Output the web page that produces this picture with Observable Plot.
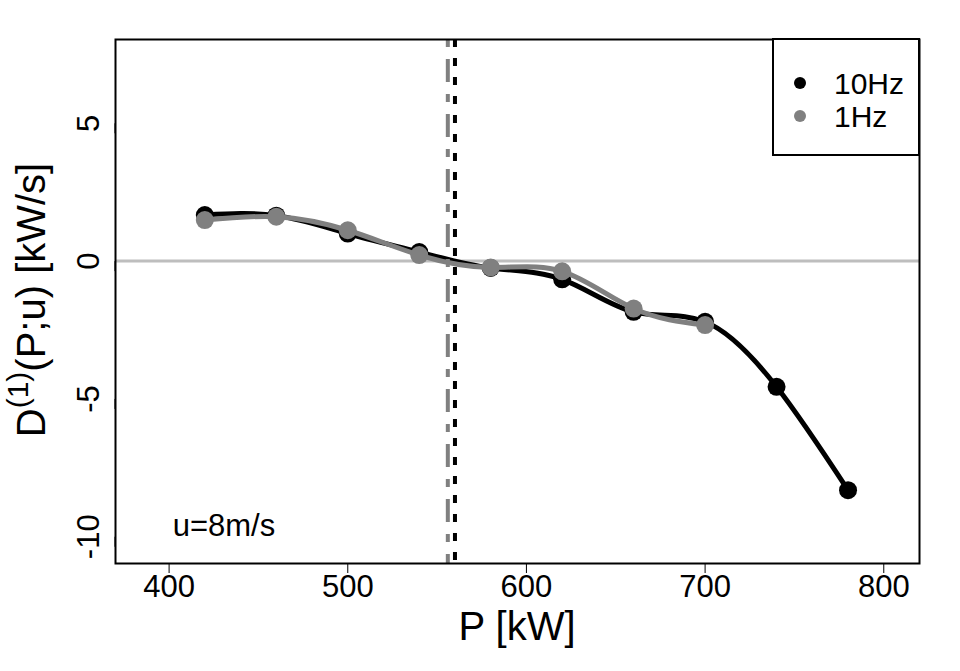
<!DOCTYPE html>
<html><head><meta charset="utf-8">
<script src="https://cdn.jsdelivr.net/npm/d3@7"></script>
<script src="https://cdn.jsdelivr.net/npm/@observablehq/plot@0.6"></script>
<style>body{margin:0;background:#fff}</style>
</head><body><div id="chart"></div>
<script>
const power10 = [420, 460, 500, 540, 580, 620, 660, 700, 740, 780];
const drift10 = [1.67, 1.65, 1.0, 0.33, -0.25, -0.66, -1.84, -2.2, -4.56, -8.31];
const power1 = [420, 460, 500, 540, 580, 620, 660, 700];
const drift1 = [1.49, 1.61, 1.12, 0.22, -0.23, -0.37, -1.72, -2.32];
const fixedPoint1Hz = [556];
const fixedPoint10Hz = [560];
const xTicks = [400, 500, 600, 700, 800];
const yTicks = [-10, -5, 0, 5];
const seriesNames = ["10Hz", "1Hz"];
const seriesColors = ["#000000", "#808080"];
const annotationText = ["u=8m/s"];
const annotationX = [402];
const annotationY = [-9.63];

const s10 = power10.map((p, i) => ({p, d: drift10[i]}));
const s1 = power1.map((p, i) => ({p, d: drift1[i]}));
const annot = annotationText.map((t, i) => ({t, x: annotationX[i], y: annotationY[i]}));

const plot = Plot.plot({
  width: 960, height: 671,
  marginLeft: 115, marginRight: 41, marginTop: 39, marginBottom: 108,
  style: {fontFamily: "'Liberation Sans', Arial, sans-serif", background: "white", color: "black"},
  x: {domain: [370, 820]},
  y: {domain: [-10.97, 8.04]},
  marks: [
    Plot.ruleY([0], {stroke: "#BEBEBE", strokeWidth: 3}),
    Plot.line(s10, {x: "p", y: "d", stroke: seriesColors[0], strokeWidth: 5, curve: "natural"}),
    Plot.dot(s10, {x: "p", y: "d", r: 9, fill: seriesColors[0]}),
    Plot.line(s1, {x: "p", y: "d", stroke: seriesColors[1], strokeWidth: 5, curve: "natural"}),
    Plot.dot(s1, {x: "p", y: "d", r: 9, fill: seriesColors[1]}),
    Plot.ruleX(fixedPoint1Hz, {stroke: seriesColors[1], strokeWidth: 4, strokeDasharray: "8,12,23,12"}),
    Plot.ruleX(fixedPoint10Hz, {stroke: seriesColors[0], strokeWidth: 4, strokeDasharray: "8,11"}),
    Plot.frame({stroke: "#000", strokeWidth: 2}),
    Plot.axisX({ticks: xTicks, tickSize: 10, tickPadding: 1, fontSize: 31, label: null, tickFormat: d => String(d)}),
    Plot.axisY({ticks: yTicks, tickSize: 10, tickPadding: 7, fontSize: 31, label: null,
                rotate: -90, textAnchor: "middle", lineAnchor: "bottom", tickFormat: d => String(d)}),
    Plot.text(annot, {x: "x", y: "y", text: "t", textAnchor: "start", fontSize: 31})
  ]
});
document.getElementById("chart").append(plot);

const svg = d3.select(plot);
const xr = plot.scale("x").range;
const yr = plot.scale("y").range;
const xl = Math.min(...xr), xrgt = Math.max(...xr);
const yt = Math.min(...yr), yb = Math.max(...yr);

// x title
svg.append("text")
  .attr("x", (xl + xrgt) / 2).attr("y", yb + 77)
  .attr("text-anchor", "middle").attr("font-size", 40).attr("fill", "black")
  .text("P [kW]");

// y title with superscript
const ytitle = svg.append("text")
  .attr("transform", `translate(45,${(yt + yb) / 2 - 1}) rotate(-90)`)
  .attr("text-anchor", "middle").attr("font-size", 40).attr("fill", "black");
ytitle.append("tspan").text("D");
ytitle.append("tspan").attr("font-size", 30).attr("dy", -17).text("(1)");
ytitle.append("tspan").attr("dy", 17).text("(P;u) [kW/s]");

// legend
const lg = svg.append("g");
lg.append("rect").attr("x", xrgt - 146).attr("y", yt).attr("width", 146).attr("height", 116)
  .attr("fill", "white").attr("stroke", "black").attr("stroke-width", 2);
seriesNames.forEach((name, i) => {
  const cy = yt + 44 + i * 33;
  lg.append("circle").attr("cx", xrgt - 119).attr("cy", cy).attr("r", 6).attr("fill", seriesColors[i]);
  lg.append("text").attr("x", xrgt - 85).attr("y", cy + 10.5)
    .attr("text-anchor", "start").attr("font-size", 30).attr("fill", "black").text(name);
});
</script>
</body></html>
